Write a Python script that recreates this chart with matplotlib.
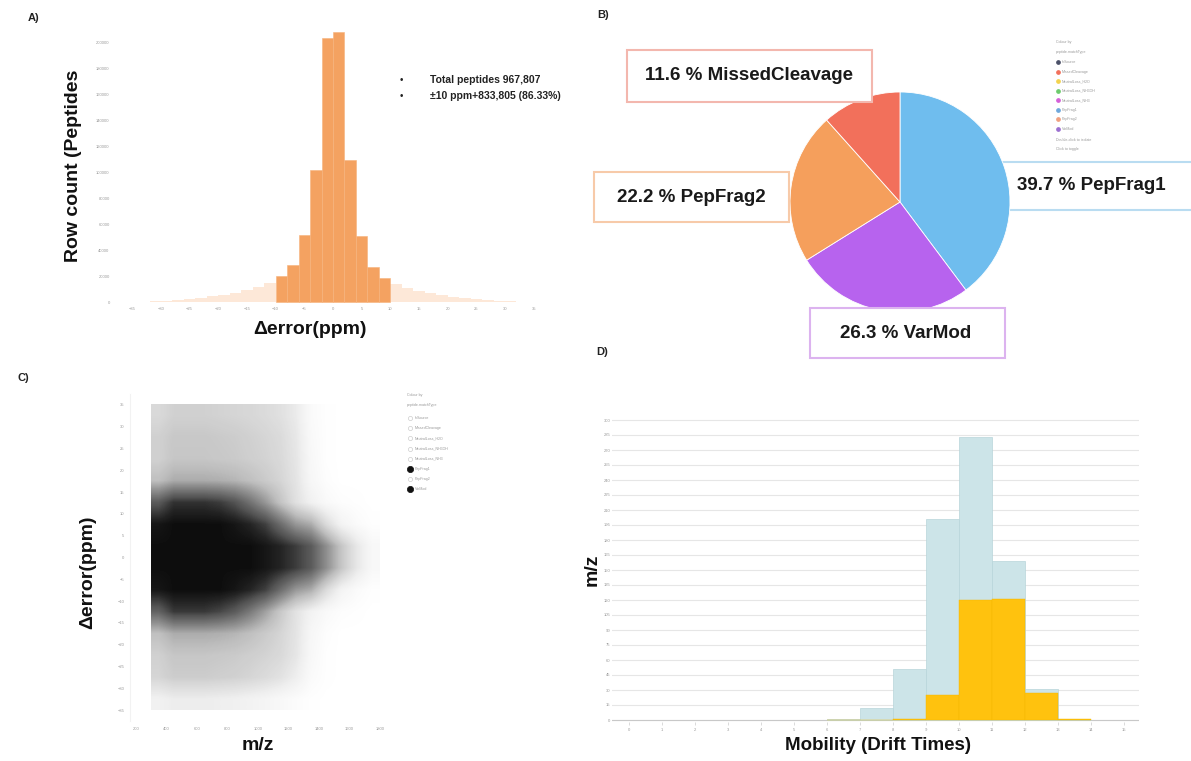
import numpy as np
import matplotlib
matplotlib.use("Agg")
import matplotlib.pyplot as plt
from matplotlib.patches import Rectangle
from matplotlib.lines import Line2D

plt.rcParams['font.family'] = ['Liberation Sans', 'DejaVu Sans']

# ---- A) mass error histogram (ppm) ----
err_left = [-10, -8, -6, -4, -2, 0, 2, 4, 6, 8]
err_counts = [19800, 28600, 51200, 101600, 203000, 208000, 109000, 50600, 27000, 18600]
tail_left = [-36, -34, -32, -30, -28, -26, -24, -22, -20, -18, -16, -14, -12,
             10, 12, 14, 16, 18, 20, 22, 24, 26, 28, 30, 32, 34]
tail_counts = [200, 400, 700, 1100, 1600, 2300, 3200, 4300, 5600, 7200, 9000, 11500, 14500,
               13500, 10500, 8500, 6800, 5300, 4000, 3000, 2100, 1500, 1000, 600, 350, 200]
total_peptides = "967,807"
within_10ppm = "833,805 (86.33%)"

# ---- B) match type share ----
match_types = ['PepFrag1', 'VarMod', 'PepFrag2', 'MissedCleavage']
match_pct = [39.7, 26.3, 22.2, 11.6]
match_colors = ['#6fbdee', '#b763ee', '#f59f5c', '#f2705b']
legend_types = ['InSource', 'MissedCleavage', 'NeutralLoss_H2O', 'NeutralLoss_NH3OH',
                'NeutralLoss_NH3', 'PepFrag1', 'PepFrag2', 'VarMod']
legend_colors = ['#4b5068', '#f2705b', '#f3d34f', '#6dcb6d', '#d55fd8', '#6fa8dc', '#f0a080', '#9b6fd0']

# ---- C) mass error vs m/z density (rows: +35 -> -35 ppm, cols: m/z 300 -> 1800) ----
mz_range = (300, 1800)
ppm_range = (-35, 35)
density = np.array([
    [.26, .30, .30, .30, .29, .28, .27, .25, .22, .16, .04, .01, 0, 0, 0],
    [.30, .34, .34, .34, .33, .32, .30, .28, .25, .18, .05, .01, 0, 0, 0],
    [.30, .35, .35, .35, .34, .33, .31, .29, .26, .19, .06, .01, 0, 0, 0],
    [.38, .45, .45, .45, .44, .42, .38, .33, .28, .20, .07, .02, 0, 0, 0],
    [.75, .88, .88, .88, .85, .78, .66, .52, .36, .22, .12, .05, .02, .01, 0],
    [.97, 1, 1, 1, 1, .97, .92, .84, .68, .52, .45, .25, .10, .04, .01],
    [1, 1, 1, 1, 1, 1, 1, .97, .92, .85, .75, .55, .35, .18, .06],
    [1, 1, 1, 1, 1, 1, 1, .97, .92, .85, .75, .55, .35, .18, .06],
    [.97, 1, 1, 1, 1, .97, .92, .84, .68, .52, .45, .25, .10, .04, .01],
    [.72, .86, .86, .86, .82, .75, .63, .49, .34, .21, .11, .05, .02, .01, 0],
    [.38, .45, .45, .45, .44, .42, .38, .33, .28, .20, .07, .02, 0, 0, 0],
    [.30, .35, .35, .35, .34, .33, .31, .29, .26, .19, .06, .01, 0, 0, 0],
    [.28, .32, .32, .32, .31, .30, .28, .25, .21, .14, .04, .01, 0, 0, 0],
    [.12, .15, .15, .15, .14, .13, .11, .09, .06, .03, .01, 0, 0, 0, 0],
])

# ---- D) mobility histogram ----
mob_left = [6, 7, 8, 9, 10, 11, 12, 13]
mob_all = [1.5, 11.7, 51, 201, 283.5, 159, 31.5, 0]
mob_sel = [0, 0, 1.5, 25, 120, 121, 27, 1.5]

W, H = 1191, 761
fig = plt.figure(figsize=(W / 100, H / 100), dpi=100)


def px_axes(l, t, r, b):
    return fig.add_axes([l / W, 1 - b / H, (r - l) / W, (b - t) / H])


def ftext(x, y, s, **kw):
    return fig.text(x / W, 1 - y / H, s, **kw)


tick_kw = dict(labelsize=3, labelcolor='#999999', length=0)
label_kw = dict(fontweight='bold', ha='center', va='center', color='#111111')

# panel A
ax = px_axes(118, 22.5, 548, 304)
ax.bar(tail_left, tail_counts, width=2, align='edge', color='#fde8d8', linewidth=0)
ax.bar(err_left, err_counts, width=2, align='edge', color='#f4a261', edgecolor='#f6b27c', linewidth=0.4)
ax.set_xlim(-37.5, 37.5)
ax.set_ylim(-1500, 215000)
ax.set_xticks(np.arange(-35, 40, 5))
ax.set_yticks(np.arange(0, 220000, 20000))
ax.tick_params(axis='x', pad=2, **tick_kw)
ax.tick_params(axis='y', pad=6, **tick_kw)
for s in ax.spines.values():
    s.set_visible(False)
ftext(310, 329, 'Δerror(ppm)', fontsize=14, **label_kw)
ftext(73, 166, 'Row count (Peptides', fontsize=14, rotation=90, **label_kw)
ftext(400, 80, '•', fontsize=7, va='center', color='#222222')
ftext(400, 96, '•', fontsize=7, va='center', color='#222222')
ftext(430, 80, f'Total peptides {total_peptides}', fontsize=7.5, fontweight='bold', va='center', color='#222222')
ftext(430, 96, f'±10 ppm+{within_10ppm}', fontsize=7.5, fontweight='bold', va='center', color='#222222')

# panel B
ax = px_axes(790, 92, 1010, 312)
ax.set_facecolor('none')
ax.pie(match_pct, colors=match_colors, startangle=90, counterclock=False,
       wedgeprops=dict(linewidth=0.6, edgecolor='white'))
ax.set_xlim(-1, 1)
ax.set_ylim(-1, 1)
ax.axis('off')

boxes = {
    'MissedCleavage': ((627, 50, 872, 102), '#f3b7ae', 3, 749),
    'PepFrag2': ((594, 172, 789, 222), '#f7caa9', 3, 691),
    'PepFrag1': ((1001, 162, 1200, 210), '#b9dcf1', 0.5, 1091),
    'VarMod': ((810, 308, 1005, 358), '#dcb3ef', 3, 906),
}
for name, pct in zip(match_types, match_pct):
    (l, t, r, b), ec, z, tx = boxes[name]
    ax.add_patch(Rectangle((l / W, 1 - b / H), (r - l) / W, (b - t) / H, transform=fig.transFigure,
                           facecolor='white', edgecolor=ec, linewidth=1.5, clip_on=False, zorder=z))
    ax.text(tx / W, 1 - (t + b) / 2 / H, f'{pct} % {name}',
            transform=fig.transFigure, ha='center', va='center', fontsize=13.5, fontweight='bold',
            color='#1a1a1a', zorder=z + 0.1)

ftext(1056, 42, 'Colour by', fontsize=2.6, color='#999999', va='center')
ftext(1056, 52, 'peptide.matchType', fontsize=2.6, color='#999999', va='center')
for i, (name, col) in enumerate(zip(legend_types, legend_colors)):
    y = 62 + i * 9.5
    fig.add_artist(Line2D([1058 / W], [1 - y / H], transform=fig.transFigure, marker='o', ms=2.4,
                          color=col, linestyle='none'))
    ftext(1062, y, name, fontsize=2.6, color='#999999', va='center')
ftext(1056, 140, 'Double-click to isolate', fontsize=2.6, color='#999999', va='center')
ftext(1056, 149, 'Click to toggle', fontsize=2.6, color='#999999', va='center')

# panel C
ax = px_axes(130, 394, 400, 721)
ax.imshow(density, extent=(mz_range[0], mz_range[1], ppm_range[0], ppm_range[1]), cmap='Greys',
          vmin=0, vmax=1.05, interpolation='bilinear', aspect='auto', origin='upper')
ax.set_xlim(160, 1930)
ax.set_ylim(-37.5, 37.5)
ax.set_xticks(np.arange(200, 2000, 200))
ax.set_yticks(np.arange(-35, 40, 5))
ax.tick_params(axis='x', pad=4, **tick_kw)
ax.tick_params(axis='y', pad=4, **tick_kw)
for s in ax.spines.values():
    s.set_visible(False)
ax.spines['left'].set_visible(True)
ax.spines['left'].set_color('#f2f2f2')
ftext(258, 746, 'm/z', fontsize=14, **label_kw)
ftext(88, 572, 'Δerror(ppm)', fontsize=14, rotation=90, **label_kw)

ftext(407, 395, 'Colour by', fontsize=2.6, color='#999999', va='center')
ftext(407, 405, 'peptide.matchType', fontsize=2.6, color='#999999', va='center')
for i, name in enumerate(legend_types):
    y = 418 + i * 10.2
    filled = name in ('PepFrag1', 'VarMod')
    fig.add_artist(Line2D([410 / W], [1 - y / H], transform=fig.transFigure, marker='o',
                          ms=4.5 if filled else 3, linestyle='none',
                          markerfacecolor='#111111' if filled else 'white',
                          markeredgecolor='#111111' if filled else '#cccccc', markeredgewidth=0.5))
    ftext(415, y, name, fontsize=2.6, color='#999999', va='center')

# panel D
ax = px_axes(612, 415, 1139, 722)
ax.bar(mob_left, mob_all, width=1, align='edge', color='#cce4e8', edgecolor='#b8d5da', linewidth=0.5, zorder=2)
ax.bar(mob_left, mob_sel, width=1, align='edge', color='#ffc20e', edgecolor='#f5b800', linewidth=0.3, zorder=3)
ax.set_xlim(-0.5, 15.45)
ax.set_ylim(-2, 305)
ax.set_xticks(np.arange(0, 16, 1))
ax.set_yticks(np.arange(0, 301, 15))
ax.yaxis.grid(True, color='#e6e6e6', linewidth=0.8, zorder=0)
ax.set_axisbelow(True)
ax.tick_params(axis='x', pad=2, labelsize=3, labelcolor='#999999', length=2, width=0.5, color='#cccccc')
ax.tick_params(axis='y', pad=1, **tick_kw)
for s in ax.spines.values():
    s.set_visible(False)
ax.axhline(0, color='#c8c8c8', linewidth=0.8, zorder=1)
ftext(878, 746, 'Mobility (Drift Times)', fontsize=13.5, **label_kw)
ftext(592, 570, 'm/z', fontsize=14, rotation=90, **label_kw)

# panel letters
for s, x, y in [('A)', 28, 18), ('B)', 597, 15), ('C)', 17, 378), ('D)', 596, 352)]:
    ftext(x, y, s, fontsize=8, fontweight='bold', va='center', color='#222222')

fig.savefig('out.png', dpi=100, facecolor='white')
